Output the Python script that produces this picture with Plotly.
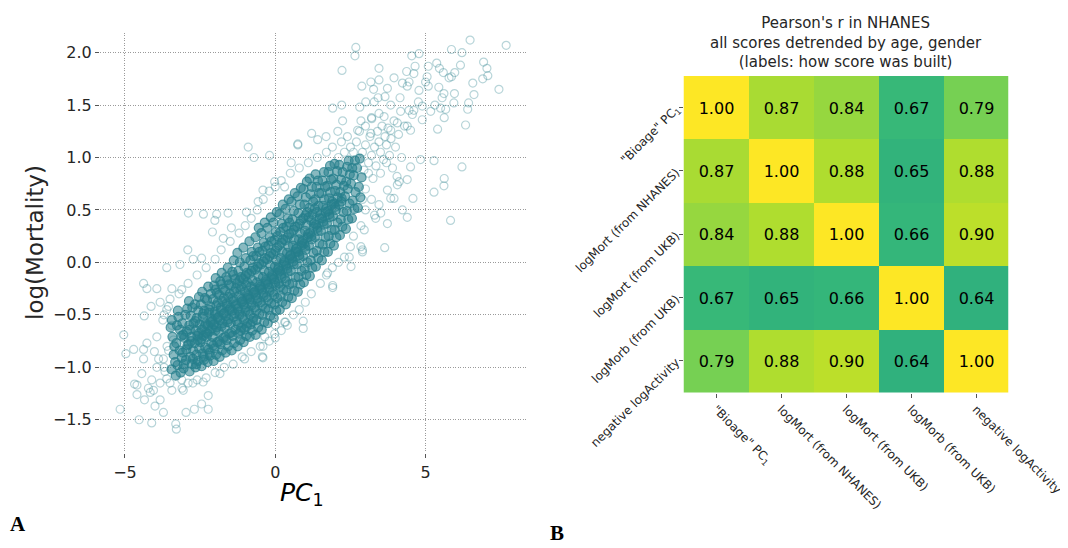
import plotly.graph_objects as go

# ---------------- Panel A data (PC1 vs log(Mortality))
sparse_upper = [
    (2.68, 2.05), (2.65, 1.97), (2.22, 1.83), (3.45, 1.85), (4.54, 1.97), (4.78, 1.99), (5.86, 2.03),
    (6.21, 2.00), (6.48, 2.12), (7.68, 2.07), (6.93, 1.91), (7.04, 1.85), (7.07, 1.78), (6.90, 1.75),
    (7.44, 1.65), (6.57, 1.71), (6.61, 1.60), (6.16, 1.88), (5.97, 1.81), (5.86, 1.77), (5.78, 1.76),
    (5.59, 1.81), (5.46, 1.85), (5.37, 1.90), (5.44, 1.67), (5.61, 1.61), (5.55, 1.57), (5.96, 1.61),
    (5.94, 1.52), (6.43, 1.52), (6.40, 1.46), (6.33, 1.31), (5.40, 1.27), (5.67, 1.46), (5.62, 1.38),
    (5.50, 1.47), (5.31, 1.50), (5.09, 1.87), (5.05, 1.77), (5.00, 1.72), (5.09, 1.68), (4.78, 1.64),
    (4.65, 1.87), (4.61, 1.80), (4.37, 1.82), (4.23, 1.71), (4.45, 1.72), (4.39, 1.68), (3.95, 1.76),
    (3.45, 1.74), (3.18, 1.72), (2.88, 1.68), (3.27, 1.65), (3.73, 1.66), (3.65, 1.58), (3.42, 1.57),
    (3.01, 1.53), (3.29, 1.53), (3.84, 1.50), (4.15, 1.57), (4.76, 1.53), (4.89, 1.49), (4.61, 1.45),
    (4.45, 1.45), (4.56, 1.41), (5.17, 1.44), (1.91, 1.47), (2.21, 1.50), (2.81, 1.48), (2.24, 1.35),
    (2.85, 1.35), (3.21, 1.37), (3.62, 1.39), (4.17, 1.44), (4.39, 1.30), (4.89, 1.36), (4.50, 1.26),
    (1.21, 1.23), (0.75, 1.12), (1.41, 1.17), (1.69, 1.20), (2.08, 1.25), (2.74, 1.26), (3.18, 1.23),
    (3.84, 1.26), (4.06, 1.33), (5.28, 0.97), (6.21, 0.91), (5.62, 0.80), (5.61, 0.73), (5.28, 0.67),
    (5.83, 0.40), (4.58, 0.61), (4.39, 0.43), (4.23, 0.50), (3.95, 0.61), (3.84, 0.61), (3.73, 0.37),
    (3.64, 0.14), (4.06, 0.74), (4.39, 0.79), (4.12, 0.77), (4.83, 0.98), (4.50, 0.91), (3.51, 0.47),
    (3.34, 0.42), (3.45, 0.55), (2.96, 0.31), (2.85, 0.15), (2.52, -0.04), (2.46, 0.05), (2.90, 0.10),
    (3.73, 0.69), (-0.90, 1.10), (-0.71, 1.00), (-0.19, 1.02), (0.75, 1.13), (1.91, -0.22), (1.91, -0.24),
    (0.93, -0.63), (0.93, -0.56), (-0.43, -0.90), (0.34, -0.57), (1.74, -0.10), (2.90, 0.12),
    (0.53, 0.95), (0.31, 0.72), (-0.02, 0.77), (-0.41, 0.69), (-0.57, 0.58), (-0.96, 0.48),
]
sparse_lower = [
    (-5.16, -1.40), (-4.53, -1.50), (-4.11, -1.53), (-3.31, -1.54), (-3.29, -1.59), (-3.72, -1.43),
    (-2.97, -1.43), (-2.69, -1.40), (-2.45, -1.35), (-2.23, -1.40), (-2.23, -1.27), (-4.00, -1.37),
    (-3.83, -1.31), (-4.35, -1.31), (-4.60, -1.26), (-4.60, -1.17), (-4.68, -1.16), (-4.44, -1.06),
    (-4.22, -1.20), (-4.16, -1.24), (-4.05, -1.22), (-4.11, -1.12), (-3.83, -1.15), (-3.61, -1.11),
    (-3.44, -1.22), (-3.06, -1.22), (-2.74, -1.15), (-2.40, -1.14), (-3.11, -1.12), (-5.04, -0.69),
    (-4.97, -0.87), (-4.71, -0.83), (-4.38, -0.83), (-4.27, -0.77), (-4.02, -0.85), (-3.94, -0.71),
    (-3.88, -0.92), (-4.38, -0.92), (-3.94, -1.00), (-3.67, -1.04), (-3.72, -0.92), (-3.55, -0.84),
    (-3.39, -0.74), (-4.38, -0.20), (-4.27, -0.25), (-3.94, -0.25), (-4.13, -0.42), (-3.83, -0.38),
    (-4.36, -0.51), (-3.74, -0.55), (-3.55, -0.42), (-3.44, -0.25), (-3.61, -0.45), (-3.44, -0.60),
    (-3.11, -0.26), (-1.84, -1.06), (-1.02, -0.92), (-0.41, -0.91), (-0.41, -0.80), (-0.02, -0.68),
    (0.31, -0.57), (0.00, -0.60), (-0.35, -0.71), (-2.89, 0.47), (-2.39, 0.46), (-1.95, 0.46),
    (-1.57, 0.47), (-2.01, 0.40), (-2.09, 0.29), (-2.91, 0.12), (-3.61, -0.05), (-3.17, -0.02),
    (-2.73, 0.03), (-2.45, 0.04), (-1.73, 0.23), (-1.46, 0.33),
]
halo = [
    (2.9, 1.05), (3.0, 1.12), (3.1, 0.95), (3.15, 1.2), (3.2, 1.02), (3.3, 1.1), (3.35, 0.92), (3.4, 1.25),
    (3.45, 1.15), (3.5, 1.05), (3.55, 1.3), (3.6, 0.98), (3.65, 1.2), (3.7, 1.12), (3.75, 1.28), (3.8, 1.02),
    (3.85, 1.18), (3.9, 0.9), (3.95, 1.35), (4.0, 1.1), (4.1, 1.22), (4.2, 1.0), (4.3, 1.3), (3.1, 0.85),
    (3.25, 0.8), (3.0, 0.7), (2.95, 0.88), (3.5, 0.85), (3.7, 0.95), (4.05, 0.82), (2.6, 1.05), (2.7, 1.15),
    (2.5, 1.1), (2.4, 1.2), (2.3, 1.05), (2.2, 1.15), (2.1, 1.0), (2.8, 1.25), (3.0, 1.3), (3.2, 1.38),
    (3.45, 1.42), (2.9, 0.6), (3.0, 0.5), (3.2, 0.6), (3.3, 0.45), (2.85, 0.35), (2.6, 0.25), (2.5, 0.15),
    (2.3, 0.05), (2.1, 0.0), (1.9, -0.05), (1.7, -0.12), (1.5, -0.2), (1.2, -0.3), (1.0, -0.38),
    (0.8, -0.45), (0.6, -0.5), (0.4, -0.6), (0.2, -0.65), (0.0, -0.72), (-0.2, -0.75), (-0.5, -0.8),
    (-0.8, -0.85), (-1.1, -0.9), (-1.4, -0.97), (-1.7, -1.0), (-2.0, -1.05), (-2.3, -1.1), (-2.6, -1.12),
    (-2.9, -1.15), (-3.1, -1.2), (-3.5, -0.35), (-3.2, -0.3), (-2.9, -0.2), (-2.6, -0.12), (-2.3, -0.05),
    (-2.0, 0.03), (-1.8, 0.12), (-1.5, 0.2), (-1.2, 0.28), (-1.0, 0.35), (-0.8, 0.42), (-0.6, 0.5),
    (-0.4, 0.6), (-0.2, 0.68), (0.0, 0.72), (0.2, 0.78), (0.5, 0.85), (0.8, 0.9), (1.1, 0.95), (1.4, 1.0),
    (1.7, 1.05), (1.9, 1.1), (-3.7, -0.5), (-3.6, -0.8), (-3.7, -1.0), (-3.5, -1.15),
]
core_left = [
    (-3.45, -1.02), (-3.38, -0.88), (-3.42, -0.71), (-3.33, -0.95), (-3.48, -0.62), (-3.36, -0.80), (-3.31, -1.08), (-3.44, -0.55),
    (-3.25, -0.98), (-3.18, -0.84), (-3.12, -0.70), (-3.27, -0.60), (-3.15, -1.05), (-3.22, -0.52), (-3.11, -0.91), (-3.29, -0.77), (-3.17, -0.64), (-3.24, -0.46),
    (-3.05, -1.01), (-2.97, -0.93), (-3.08, -0.86), (-2.92, -0.79), (-3.02, -0.72), (-2.95, -0.66), (-3.09, -0.58), (-2.99, -0.50), (-2.93, -0.44), (-3.04, -0.97), (-2.96, -0.83), (-3.06, -0.69),
    (-2.85, -1.04), (-2.77, -0.97), (-2.82, -0.90), (-2.73, -0.84), (-2.88, -0.78), (-2.79, -0.71), (-2.84, -0.64), (-2.72, -0.58), (-2.81, -0.51), (-2.76, -0.43), (-2.87, -0.37), (-2.74, -0.92), (-2.80, -0.75), (-2.86, -0.60),
    (-2.65, -1.00), (-2.57, -0.94), (-2.62, -0.88), (-2.53, -0.82), (-2.68, -0.77), (-2.59, -0.70), (-2.64, -0.65), (-2.52, -0.59), (-2.61, -0.53), (-2.56, -0.46), (-2.67, -0.40), (-2.54, -0.33), (-2.63, -0.97), (-2.58, -0.74), (-2.66, -0.56), (-2.55, -0.68),
    (-2.45, -0.99), (-2.37, -0.93), (-2.42, -0.87), (-2.33, -0.81), (-2.48, -0.76), (-2.39, -0.70), (-2.44, -0.64), (-2.32, -0.58), (-2.41, -0.52), (-2.36, -0.46), (-2.47, -0.40), (-2.34, -0.34), (-2.43, -0.28), (-2.38, -0.90), (-2.46, -0.73), (-2.35, -0.61), (-2.40, -0.49), (-2.31, -0.67),
    (-2.25, -0.95), (-2.17, -0.89), (-2.22, -0.83), (-2.13, -0.77), (-2.28, -0.71), (-2.19, -0.66), (-2.24, -0.60), (-2.12, -0.54), (-2.21, -0.48), (-2.16, -0.42), (-2.27, -0.36), (-2.14, -0.30), (-2.23, -0.23), (-2.18, -0.86), (-2.26, -0.68), (-2.15, -0.57), (-2.20, -0.45), (-2.11, -0.63),
    (-2.05, -0.94), (-1.97, -0.88), (-2.02, -0.82), (-1.93, -0.76), (-2.08, -0.71), (-1.99, -0.65), (-2.04, -0.59), (-1.92, -0.53), (-2.01, -0.47), (-1.96, -0.41), (-2.07, -0.35), (-1.94, -0.29), (-2.03, -0.22), (-1.98, -0.15), (-2.06, -0.79), (-1.95, -0.62), (-2.00, -0.50), (-1.91, -0.38), (-2.09, -0.56), (-1.99, -0.26),
    (-1.85, -0.90), (-1.77, -0.84), (-1.82, -0.78), (-1.73, -0.72), (-1.88, -0.66), (-1.79, -0.61), (-1.84, -0.55), (-1.72, -0.49), (-1.81, -0.43), (-1.76, -0.37), (-1.87, -0.31), (-1.74, -0.25), (-1.83, -0.18), (-1.78, -0.10), (-1.86, -0.75), (-1.75, -0.58), (-1.80, -0.46), (-1.71, -0.34), (-1.89, -0.52), (-1.79, -0.21),
    (-1.65, -0.86), (-1.57, -0.80), (-1.62, -0.74), (-1.53, -0.68), (-1.68, -0.62), (-1.59, -0.57), (-1.64, -0.51), (-1.52, -0.45), (-1.61, -0.39), (-1.56, -0.33), (-1.67, -0.27), (-1.54, -0.21), (-1.63, -0.14), (-1.58, -0.05), (-1.66, -0.71), (-1.55, -0.54), (-1.60, -0.42), (-1.51, -0.30), (-1.69, -0.48), (-1.59, -0.17),
    (-1.45, -0.84), (-1.37, -0.77), (-1.42, -0.70), (-1.33, -0.64), (-1.48, -0.58), (-1.39, -0.52), (-1.44, -0.46), (-1.32, -0.40), (-1.41, -0.34), (-1.36, -0.28), (-1.47, -0.22), (-1.34, -0.16), (-1.43, -0.09), (-1.38, 0.02), (-1.46, -0.67), (-1.35, -0.49), (-1.40, -0.37), (-1.31, -0.25), (-1.49, -0.43), (-1.39, -0.12),
]
core_mid = [
    (-1.25, -0.80), (-1.17, -0.74), (-1.22, -0.68), (-1.13, -0.62), (-1.28, -0.56), (-1.19, -0.50), (-1.24, -0.44), (-1.12, -0.38), (-1.21, -0.32), (-1.16, -0.26), (-1.27, -0.20), (-1.14, -0.14), (-1.23, -0.08), (-1.18, 0.00), (-1.26, 0.09), (-1.15, -0.65), (-1.20, -0.47), (-1.11, -0.35), (-1.29, -0.41), (-1.19, -0.17), (-1.24, -0.59), (-1.13, -0.23),
    (-1.05, -0.76), (-0.97, -0.70), (-1.02, -0.64), (-0.93, -0.58), (-1.08, -0.52), (-0.99, -0.46), (-1.04, -0.40), (-0.92, -0.34), (-1.01, -0.28), (-0.96, -0.22), (-1.07, -0.16), (-0.94, -0.10), (-1.03, -0.04), (-0.98, 0.04), (-1.06, 0.14), (-0.95, -0.61), (-1.00, -0.43), (-0.91, -0.31), (-1.09, -0.37), (-0.99, -0.13), (-1.04, -0.55), (-0.93, -0.19),
    (-0.85, -0.71), (-0.77, -0.65), (-0.82, -0.59), (-0.73, -0.53), (-0.88, -0.47), (-0.79, -0.41), (-0.84, -0.35), (-0.72, -0.29), (-0.81, -0.23), (-0.76, -0.17), (-0.87, -0.11), (-0.74, -0.05), (-0.83, 0.02), (-0.78, 0.10), (-0.86, 0.20), (-0.75, -0.56), (-0.80, -0.38), (-0.71, -0.26), (-0.89, -0.32), (-0.79, -0.08), (-0.84, -0.50), (-0.73, 0.06),
    (-0.65, -0.69), (-0.57, -0.62), (-0.62, -0.55), (-0.53, -0.49), (-0.68, -0.43), (-0.59, -0.37), (-0.64, -0.31), (-0.52, -0.25), (-0.61, -0.19), (-0.56, -0.13), (-0.67, -0.07), (-0.54, -0.01), (-0.63, 0.06), (-0.58, 0.14), (-0.66, 0.24), (-0.55, 0.33), (-0.60, -0.34), (-0.51, -0.22), (-0.69, -0.28), (-0.59, -0.04), (-0.64, -0.46), (-0.53, 0.10),
    (-0.45, -0.64), (-0.37, -0.57), (-0.42, -0.50), (-0.33, -0.44), (-0.48, -0.38), (-0.39, -0.32), (-0.44, -0.26), (-0.32, -0.20), (-0.41, -0.14), (-0.36, -0.08), (-0.47, -0.02), (-0.34, 0.04), (-0.43, 0.11), (-0.38, 0.19), (-0.46, 0.28), (-0.35, 0.38), (-0.40, -0.29), (-0.31, -0.17), (-0.49, -0.23), (-0.39, 0.01), (-0.44, -0.41), (-0.33, 0.15),
    (-0.25, -0.58), (-0.17, -0.51), (-0.22, -0.45), (-0.13, -0.39), (-0.28, -0.33), (-0.19, -0.27), (-0.24, -0.21), (-0.12, -0.15), (-0.21, -0.09), (-0.16, -0.03), (-0.27, 0.03), (-0.14, 0.09), (-0.23, 0.16), (-0.18, 0.24), (-0.26, 0.33), (-0.15, 0.43), (-0.20, -0.24), (-0.11, -0.12), (-0.29, -0.18), (-0.19, 0.06), (-0.24, -0.36), (-0.13, 0.20),
    (-0.05, -0.53), (0.03, -0.46), (-0.02, -0.40), (0.07, -0.34), (-0.08, -0.28), (0.01, -0.22), (-0.04, -0.16), (0.08, -0.10), (-0.01, -0.04), (0.04, 0.02), (-0.07, 0.08), (0.06, 0.14), (-0.03, 0.21), (0.02, 0.29), (-0.06, 0.38), (0.05, 0.48), (0.00, -0.19), (0.09, -0.07), (-0.09, -0.13), (0.01, 0.11), (-0.04, -0.31), (0.07, 0.25),
    (0.15, -0.45), (0.23, -0.38), (0.18, -0.32), (0.27, -0.26), (0.12, -0.20), (0.21, -0.14), (0.16, -0.08), (0.28, -0.02), (0.19, 0.04), (0.24, 0.10), (0.13, 0.16), (0.26, 0.22), (0.17, 0.29), (0.22, 0.37), (0.14, 0.46), (0.25, 0.55), (0.20, -0.11), (0.29, 0.01), (0.11, -0.05), (0.21, 0.19), (0.16, -0.23), (0.27, 0.33),
    (0.35, -0.40), (0.43, -0.33), (0.38, -0.27), (0.47, -0.21), (0.32, -0.15), (0.41, -0.09), (0.36, -0.03), (0.48, 0.03), (0.39, 0.09), (0.44, 0.15), (0.33, 0.21), (0.46, 0.27), (0.37, 0.34), (0.42, 0.42), (0.34, 0.51), (0.45, 0.60), (0.40, -0.06), (0.49, 0.06), (0.31, 0.00), (0.41, 0.24), (0.36, -0.18), (0.47, 0.38),
]
core_right = [
    (0.55, -0.34), (0.63, -0.27), (0.58, -0.20), (0.67, -0.14), (0.52, -0.08), (0.61, -0.02), (0.56, 0.04), (0.68, 0.10), (0.59, 0.16), (0.64, 0.22), (0.53, 0.28), (0.66, 0.34), (0.57, 0.41), (0.62, 0.49), (0.54, 0.58), (0.65, 0.66), (0.60, 0.01), (0.69, 0.13), (0.51, 0.07), (0.61, 0.31),
    (0.75, -0.28), (0.83, -0.21), (0.78, -0.14), (0.87, -0.08), (0.72, -0.02), (0.81, 0.04), (0.76, 0.10), (0.88, 0.16), (0.79, 0.22), (0.84, 0.28), (0.73, 0.34), (0.86, 0.40), (0.77, 0.47), (0.82, 0.55), (0.74, 0.63), (0.85, 0.71), (0.80, 0.07), (0.89, 0.19), (0.71, 0.13), (0.81, 0.37),
    (0.95, -0.19), (1.03, -0.12), (0.98, -0.06), (1.07, 0.00), (0.92, 0.06), (1.01, 0.12), (0.96, 0.18), (1.08, 0.24), (0.99, 0.30), (1.04, 0.36), (0.93, 0.42), (1.06, 0.48), (0.97, 0.55), (1.02, 0.62), (0.94, 0.70), (1.05, 0.77), (1.00, 0.15), (1.09, 0.27), (0.91, 0.21), (1.01, 0.45),
    (1.15, -0.13), (1.23, -0.05), (1.18, 0.02), (1.27, 0.09), (1.12, 0.16), (1.21, 0.22), (1.16, 0.28), (1.28, 0.34), (1.19, 0.40), (1.24, 0.46), (1.13, 0.52), (1.26, 0.58), (1.17, 0.65), (1.22, 0.72), (1.14, 0.80), (1.20, 0.25), (1.29, 0.37), (1.11, 0.43),
    (1.35, -0.04), (1.43, 0.04), (1.38, 0.11), (1.47, 0.18), (1.32, 0.24), (1.41, 0.30), (1.36, 0.36), (1.48, 0.42), (1.39, 0.48), (1.44, 0.54), (1.33, 0.60), (1.46, 0.66), (1.37, 0.72), (1.42, 0.78), (1.34, 0.84), (1.40, 0.33), (1.49, 0.45), (1.31, 0.51),
    (1.55, 0.02), (1.63, 0.10), (1.58, 0.17), (1.67, 0.24), (1.52, 0.30), (1.61, 0.36), (1.56, 0.42), (1.68, 0.48), (1.59, 0.54), (1.64, 0.60), (1.53, 0.66), (1.66, 0.72), (1.57, 0.78), (1.62, 0.86), (1.60, 0.39), (1.69, 0.51),
    (1.75, 0.10), (1.83, 0.18), (1.78, 0.25), (1.87, 0.31), (1.72, 0.37), (1.81, 0.43), (1.76, 0.49), (1.88, 0.55), (1.79, 0.61), (1.84, 0.67), (1.73, 0.73), (1.86, 0.79), (1.77, 0.86), (1.82, 0.92), (1.80, 0.46), (1.89, 0.58),
    (1.95, 0.16), (2.03, 0.24), (1.98, 0.31), (2.07, 0.38), (1.92, 0.44), (2.01, 0.50), (1.96, 0.56), (2.08, 0.62), (1.99, 0.68), (2.04, 0.74), (1.93, 0.80), (2.06, 0.87), (1.97, 0.94), (2.00, 0.53),
    (2.15, 0.26), (2.23, 0.34), (2.18, 0.41), (2.27, 0.48), (2.12, 0.55), (2.21, 0.61), (2.16, 0.67), (2.28, 0.73), (2.19, 0.79), (2.24, 0.86), (2.13, 0.93), (2.20, 0.58),
    (2.35, 0.32), (2.43, 0.41), (2.38, 0.49), (2.47, 0.56), (2.32, 0.63), (2.41, 0.70), (2.36, 0.77), (2.48, 0.84), (2.39, 0.91), (2.44, 0.97),
    (2.55, 0.42), (2.63, 0.51), (2.58, 0.59), (2.67, 0.67), (2.52, 0.75), (2.61, 0.83), (2.56, 0.90), (2.65, 0.97),
    (2.75, 0.52), (2.83, 0.62), (2.78, 0.72), (2.87, 0.81), (2.72, 0.90), (2.81, 0.99),
]

x_ticks = [-5, 0, 5]
y_ticks = [-1.5, -1.0, -0.5, 0.0, 0.5, 1.0, 1.5, 2.0]

# ---------------- Panel B data (correlation matrix)
score_labels = ['"Bioage" PC<sub>1</sub>', "logMort (from NHANES)", "logMort (from UKB)",
                "logMorb (from UKB)", "negative logActivity"]
corr = [
    [1.00, 0.87, 0.84, 0.67, 0.79],
    [0.87, 1.00, 0.88, 0.65, 0.88],
    [0.84, 0.88, 1.00, 0.66, 0.90],
    [0.67, 0.65, 0.66, 1.00, 0.64],
    [0.79, 0.88, 0.90, 0.64, 1.00],
]

FONT = "DejaVu Sans"
TXT = "#262626"
TEAL = "38,127,140"

# page body has an 8px margin: lay the figure out in window pixels shifted by it
W, H, OFF = 1060, 540, 8


def fx(px):
    return (px - OFF) / W


def fy(py):
    return 1 - (py - OFF) / H


sparse = sparse_upper + sparse_lower + halo
core = core_left + core_mid + core_right

fig = go.Figure()
# dense core: many overlapping rings read as a solid mass
fig.add_trace(go.Scatter(
    x=[p[0] for p in core], y=[p[1] for p in core], mode="markers",
    marker=dict(symbol="circle", size=9, color=f"rgba({TEAL},0.55)",
                line=dict(width=1.2, color=f"rgba({TEAL},0.75)")),
    xaxis="x", yaxis="y", showlegend=False, hoverinfo="skip"))
fig.add_trace(go.Scatter(
    x=[p[0] for p in sparse], y=[p[1] for p in sparse], mode="markers",
    marker=dict(symbol="circle-open", size=8, color=f"rgba({TEAL},0.33)", line=dict(width=1.2)),
    xaxis="x", yaxis="y", showlegend=False, hoverinfo="skip"))

idx = list(range(len(score_labels)))
fig.add_trace(go.Heatmap(
    z=corr, x=idx, y=idx, colorscale="Viridis", zmin=0, zmax=1, showscale=False,
    texttemplate="%{z:.2f}", textfont=dict(size=16, color="black", family=FONT),
    xaxis="x2", yaxis="y2", hoverinfo="skip"))

grid = dict(showgrid=True, gridcolor="#9a9a9a", griddash="1px,1.5px", gridwidth=1, automargin=False,
            zeroline=False, showline=False, ticks="outside", ticklen=4, tickcolor="#555555",
            tickfont=dict(size=16, color=TXT, family=FONT))
hm_axis = dict(ticks="outside", ticklen=4, tickcolor="#555555", showgrid=False, zeroline=False,
               showline=False, automargin=False, tickfont=dict(size=12, color=TXT, family=FONT))

fig.update_layout(
    width=W, height=H, margin=dict(l=0, r=0, t=0, b=0, autoexpand=False),
    paper_bgcolor="white", plot_bgcolor="white",
    font=dict(family=FONT, color=TXT),
    xaxis=dict(domain=[fx(100), fx(526)], range=[-5.83, 8.34], tickvals=x_ticks, anchor="y", **grid),
    yaxis=dict(domain=[fy(453.3), fy(32.7)], range=[-1.82, 2.19], tickvals=y_ticks,
               tickformat=".1f", anchor="x", **grid),
    xaxis2=dict(domain=[fx(683.5), fx(1008.5)], range=[-0.5, 4.5], tickvals=idx, ticktext=score_labels,
                tickangle=45, anchor="y2", **hm_axis),
    yaxis2=dict(domain=[fy(392.5), fy(76)], range=[4.5, -0.5], tickvals=idx, ticktext=score_labels,
                tickangle=-45, anchor="x2", **hm_axis),
    annotations=[
        dict(text="log(Mortality)", x=fx(35), y=fy(243), xref="paper", yref="paper", textangle=-90,
             showarrow=False, font=dict(size=23, color=TXT, family=FONT), xanchor="center", yanchor="middle"),
        dict(text="<i>PC</i><sub>1</sub>", x=fx(302), y=fy(494), xref="paper", yref="paper",
             showarrow=False, font=dict(size=25, color="black", family=FONT), xanchor="center", yanchor="middle"),
        dict(text="Pearson's r in NHANES<br>all scores detrended by age, gender<br>(labels: how score was built)",
             x=fx(846), y=fy(43), xref="paper", yref="paper", showarrow=False,
             font=dict(size=15, color=TXT, family=FONT), xanchor="center", yanchor="middle", align="center"),
        dict(text="<b>A</b>", x=fx(8), y=fy(524), xref="paper", yref="paper", showarrow=False,
             font=dict(size=21, color="black", family="Liberation Serif"), xanchor="left", yanchor="middle"),
        dict(text="<b>B</b>", x=fx(548), y=fy(533), xref="paper", yref="paper", showarrow=False,
             font=dict(size=21, color="black", family="Liberation Serif"), xanchor="left", yanchor="middle"),
    ],
)

fig.write_html("out.html")
